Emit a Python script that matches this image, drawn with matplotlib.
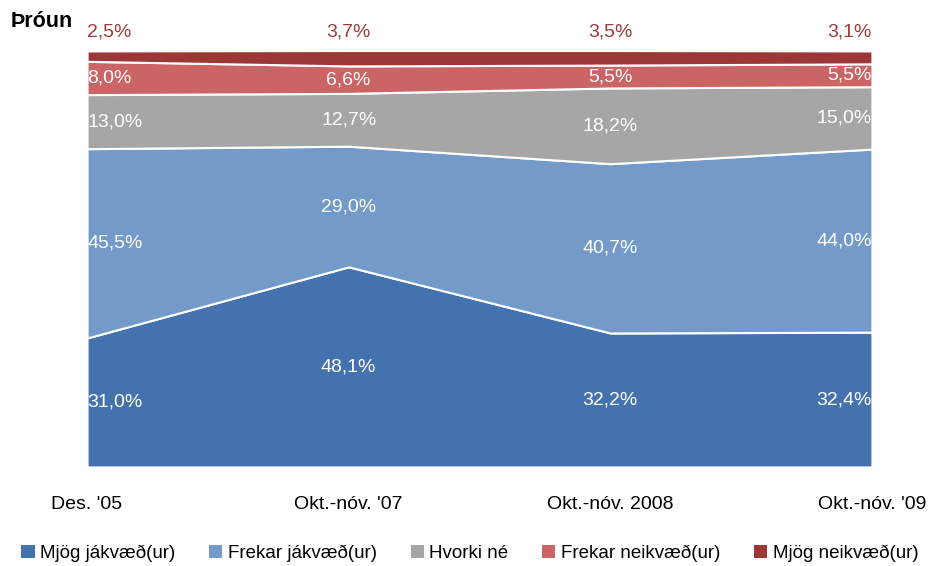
import matplotlib
matplotlib.use("Agg")
import matplotlib.pyplot as plt
import numpy as np

plt.rcParams['font.family'] = ['Liberation Sans Narrow', 'Liberation Sans', 'DejaVu Sans']

periods = ["Des. '05", "Okt.-nóv. '07", "Okt.-nóv. 2008", "Okt.-nóv. '09"]
series_names = ["Mjög jákvæð(ur)", "Frekar jákvæð(ur)", "Hvorki né",
                "Frekar neikvæð(ur)", "Mjög neikvæð(ur)"]
mjog_jakv = [31.0, 48.1, 32.2, 32.4]
frekar_jakv = [45.5, 29.0, 40.7, 44.0]
hvorki = [13.0, 12.7, 18.2, 15.0]
frekar_neikv = [8.0, 6.6, 5.5, 5.5]
mjog_neikv = [2.5, 3.7, 3.5, 3.1]

colors = ["#4472AE", "#739AC8", "#A6A6A6", "#CB6464", "#9B3737"]

data = np.array([mjog_jakv, frekar_jakv, hvorki, frekar_neikv, mjog_neikv])
x = np.arange(len(periods))

fig = plt.figure(figsize=(9.4, 5.66), dpi=100)
ax = fig.add_axes([0.0926, 0.175, 0.835, 0.735])

ax.stackplot(x, data, colors=colors, edgecolor="white", linewidth=1.5,
             labels=series_names)
ax.set_xlim(0, len(periods) - 1)
ax.set_ylim(0, 100)

# data labels
bottoms = np.vstack([np.zeros(len(x)), np.cumsum(data, axis=0)[:-1]])
for i in range(len(series_names)):
    for j in range(len(x)):
        val = data[i, j]
        if j == 0:
            ha = "left"
        elif j == len(x) - 1:
            ha = "right"
        else:
            ha = "center"
        txt = ("%.1f%%" % val).replace(".", ",")
        if i == len(series_names) - 1:
            ax.text(x[j], 104.5, txt, ha=ha, va="center", color="#A0393A",
                    fontsize=14, clip_on=False)
        else:
            ax.text(x[j], bottoms[i, j] + val / 2, txt, ha=ha, va="center",
                    color="white", fontsize=14)

ax.set_xticks(x)
ax.set_xticklabels(periods, fontsize=14)
ax.tick_params(axis="x", length=0, pad=21)
ax.set_yticks([])
for s in ax.spines.values():
    s.set_visible(False)

fig.text(0.011, 0.962, "Þróun", fontsize=15.5, fontweight="bold",
         ha="left", va="center")

handles, labels = ax.get_legend_handles_labels()
leg = fig.legend(handles, labels, loc="center", bbox_to_anchor=(0.5, 0.022),
                 ncol=5, frameon=False, fontsize=13.5, handlelength=0.7,
                 handleheight=0.7, handletextpad=0.3, columnspacing=1.8)
for h in leg.legend_handles:
    h.set_edgecolor("none")

fig.savefig("out.png", dpi=100)
